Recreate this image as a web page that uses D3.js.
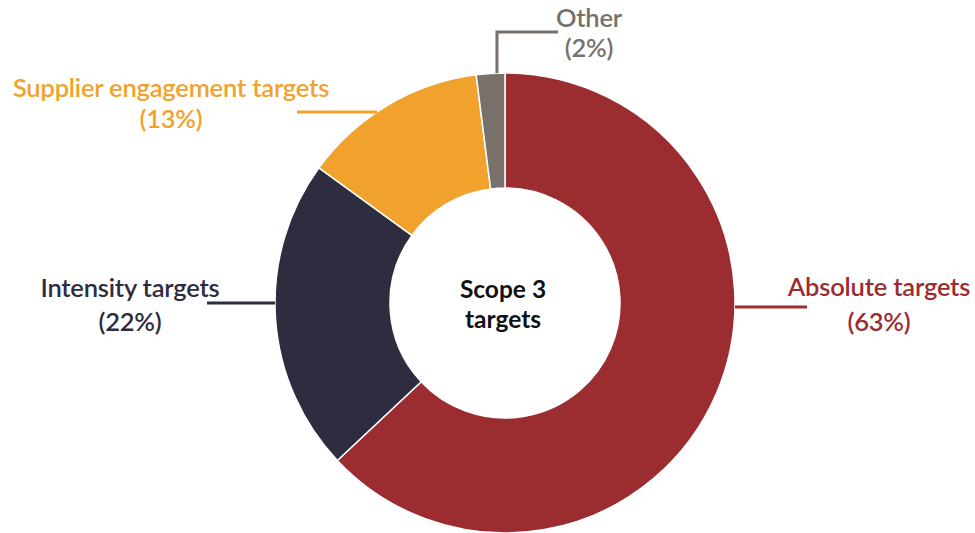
<!DOCTYPE html>
<html>
<head>
<meta charset="utf-8">
<script src="https://cdn.jsdelivr.net/npm/d3@7"></script>
<style>
  body { margin: 0; background: #fff; }
  .label { font-family: "Lato", "Open Sans", sans-serif; font-weight: 600; font-size: 25.5px; letter-spacing: -0.2px; }
  .center-label { font-family: "Lato", "Open Sans", sans-serif; font-weight: 700; font-size: 24.5px; fill: #111; }
</style>
</head>
<body>
<div id="donut"></div>
<script>
// 1: DATA
const categories = ["Absolute targets", "Intensity targets", "Supplier engagement targets", "Other"];
const shares = [63, 22, 13, 2];
const sliceColors = ["#9b2d31", "#2e2c3f", "#f0a22d", "#78716b"];
const centerTitle = ["Scope 3", "targets"];

// label layout: angle (deg) where the leader touches the ring, where the leader ends, text anchor
const labelLayout = [
    { angle: 91,    lineEnd: [807, 307], text: [879, 296], gap: 35, vertical: false },
    { angle: 270,   lineEnd: [207, 303], text: [130, 297], gap: 34, vertical: false },
    { angle: 326.2, lineEnd: [297, 112], text: [171, 97],  gap: 31, vertical: false },
    { angle: 358,   lineEnd: [558, 32],  text: [589, 27],  gap: 30, vertical: true }
];

// 2: SIZES
const width = 975, height = 533;
const cx = 505, cy = 303;
const outerR = 230, innerR = 115;

const svg = d3.select("#donut")
    .append("svg")
    .attr("width", width)
    .attr("height", height);

const g = svg.append("g")
    .attr("transform", `translate(${cx},${cy})`);

const color = d3.scaleOrdinal()
    .domain(categories)
    .range(sliceColors);

const data = categories.map((c, i) => ({ name: c, value: shares[i] }));

const pie = d3.pie()
    .value(d => d.value)
    .sort(null);

const arc = d3.arc()
    .innerRadius(innerR)
    .outerRadius(outerR);

// 3: SLICES
g.selectAll(".slice")
    .data(pie(data))
    .enter()
    .append("path")
    .attr("class", "slice")
    .attr("d", arc)
    .attr("fill", d => color(d.data.name))
    .attr("stroke", "#fff")
    .attr("stroke-width", 1.5);

// 4: LEADER LINES + LABELS
data.forEach((d, i) => {
    const lay = labelLayout[i];
    const a = lay.angle * Math.PI / 180;
    const x0 = cx + outerR * Math.sin(a);
    const y0 = cy - outerR * Math.cos(a);
    let pts;
    if (lay.vertical) {
        pts = [[x0, y0], [x0, lay.lineEnd[1]], lay.lineEnd];
    } else {
        pts = [[x0, lay.lineEnd[1]], lay.lineEnd];
    }
    svg.append("path")
        .attr("d", d3.line()(pts))
        .attr("fill", "none")
        .attr("stroke", color(d.name))
        .attr("stroke-width", 3);

    const t = svg.append("text")
        .attr("class", "label")
        .attr("text-anchor", "middle")
        .attr("fill", color(d.name));
    t.append("tspan")
        .attr("x", lay.text[0])
        .attr("y", lay.text[1])
        .text(d.name);
    t.append("tspan")
        .attr("x", lay.text[0])
        .attr("dy", lay.gap)
        .text(`(${d.value}%)`);
});

// 5: CENTER TITLE (one text element per line)
svg.selectAll(".center-label")
    .data(centerTitle)
    .enter()
    .append("text")
    .attr("class", "center-label")
    .attr("text-anchor", "middle")
    .attr("x", cx - 2)
    .attr("y", (d, i) => 298 + i * 30)
    .text(d => d);
</script>
</body>
</html>
